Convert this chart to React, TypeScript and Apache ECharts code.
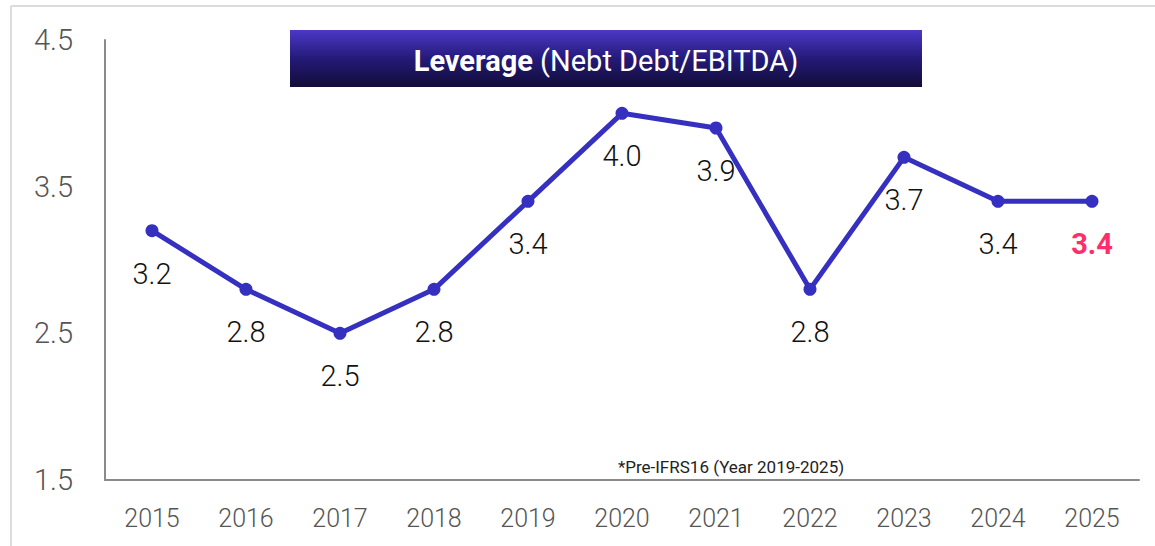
import React, { useEffect, useRef } from "react";
import * as echarts from "echarts";

const years = ["2015", "2016", "2017", "2018", "2019", "2020", "2021", "2022", "2023", "2024", "2025"];
const leverage = [3.2, 2.8, 2.5, 2.8, 3.4, 4.0, 3.9, 2.8, 3.7, 3.4, 3.4];
const yTicks = [1.5, 2.5, 3.5, 4.5];
const titleBold = "Leverage";
const titleRest = " (Nebt Debt/EBITDA)";
const footnote = "*Pre-IFRS16 (Year 2019-2025)";

const FONT = "Roboto, 'Liberation Sans', sans-serif";

export default function App() {
  const ref = useRef<HTMLDivElement>(null);
  useEffect(() => {
    document.body.style.margin = "0";
    const chart = echarts.init(ref.current!, null, { renderer: "svg" });
    const last = leverage.length - 1;
    chart.setOption({
      animation: false,
      textStyle: { fontFamily: FONT },
      grid: { left: 105, right: 16, top: 40, bottom: 66, containLabel: false },
      xAxis: {
        type: "category",
        data: years,
        boundaryGap: true,
        axisLine: { lineStyle: { color: "#8a8a8a", width: 2 } },
        axisTick: { show: false },
        axisLabel: { color: "#555", fontSize: 25, margin: 26, fontFamily: FONT, fontWeight: 300 },
      },
      yAxis: {
        type: "value",
        min: 1.5,
        max: 4.5,
        axisLine: { show: true, lineStyle: { color: "#8a8a8a", width: 2 } },
        axisTick: { show: false },
        splitLine: { show: false },
        axisLabel: {
          color: "#555",
          fontSize: 29,
          margin: 32,
          fontFamily: FONT,
          fontWeight: 300,
          customValues: yTicks,
          formatter: (v: number) => v.toFixed(1),
        },
      },
      series: [
        {
          type: "line",
          data: leverage.map((v, i) =>
            i === last
              ? { value: v, label: { color: "#ff2d6a", fontWeight: "bold" } }
              : v
          ),
          symbol: "circle",
          symbolSize: 13,
          lineStyle: { color: "#3530c0", width: 5 },
          itemStyle: { color: "#3530c0" },
          label: {
            show: true,
            position: "bottom",
            distance: 22,
            fontSize: 29,
            color: "#111",
            fontWeight: 300,
            fontFamily: FONT,
            formatter: (p: any) => Number(p.value).toFixed(1),
          },
        },
      ],
      graphic: [
        {
          type: "line",
          shape: { x1: 11, y1: 6, x2: 1155, y2: 6 },
          style: { stroke: "#dcdcdc", lineWidth: 2 },
        },
        {
          type: "line",
          shape: { x1: 11, y1: 6, x2: 11, y2: 546 },
          style: { stroke: "#dcdcdc", lineWidth: 2 },
        },
        {
          type: "rect",
          shape: { x: 290, y: 30, width: 632, height: 57 },
          style: {
            fill: new echarts.graphic.LinearGradient(0, 0, 0, 1, [
              { offset: 0, color: "#4b38c6" },
              { offset: 0.5, color: "#241a78" },
              { offset: 1, color: "#120c38" },
            ]),
          },
        },
        {
          type: "text",
          x: 606,
          y: 61,
          style: {
            text: "{b|" + titleBold + "}{n|" + titleRest + "}",
            align: "center",
            verticalAlign: "middle",
            rich: {
              b: { fontSize: 29, fontWeight: "bold", fill: "#fff", fontFamily: FONT },
              n: { fontSize: 29, fill: "#fff", fontFamily: FONT },
            },
          },
        },
        {
          type: "text",
          x: 731,
          y: 467,
          style: {
            text: footnote,
            align: "center",
            verticalAlign: "middle",
            fontSize: 17,
            fill: "#222",
            fontFamily: FONT,
          },
        },
      ],
    });
    return () => chart.dispose();
  }, []);
  return <div ref={ref} style={{ width: 1155, height: 546 }} />;
}
